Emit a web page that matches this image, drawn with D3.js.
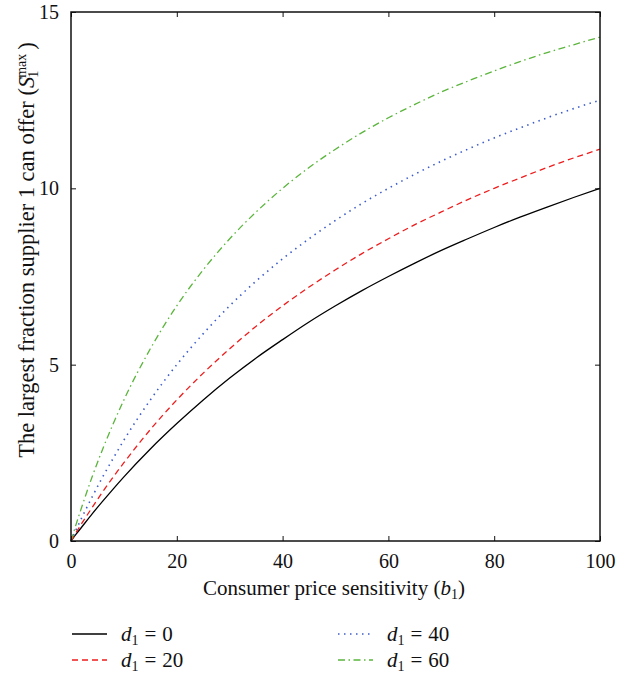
<!DOCTYPE html>
<html>
<head>
<meta charset="utf-8">
<script src="https://cdn.jsdelivr.net/npm/d3@7"></script>
<style>
  body { margin: 0; background: #fff; }
  text { font-family: "Liberation Serif", "DejaVu Serif", serif; fill: #111; }
</style>
</head>
<body>
<div id="chart"></div>
<script>
// values
var bValues = [0, 1, 2, 4, 6, 8, 10, 15, 20, 25, 30, 35, 40, 45, 50, 55, 60, 65, 70, 75, 80, 85, 90, 95, 100];
var d0  = [0, 0.20, 0.39, 0.77, 1.13, 1.48, 1.82, 2.61, 3.33, 4.00, 4.62, 5.19, 5.71, 6.21, 6.67, 7.10, 7.50, 7.88, 8.24, 8.57, 8.89, 9.19, 9.47, 9.74, 10.00];
var d20 = [0, 0.25, 0.49, 0.95, 1.40, 1.82, 2.22, 3.16, 4.00, 4.76, 5.45, 6.09, 6.67, 7.20, 7.69, 8.15, 8.57, 8.97, 9.33, 9.68, 10.00, 10.30, 10.59, 10.86, 11.11];
var d40 = [0, 0.33, 0.65, 1.25, 1.82, 2.35, 2.86, 4.00, 5.00, 5.88, 6.67, 7.37, 8.00, 8.57, 9.09, 9.57, 10.00, 10.40, 10.77, 11.11, 11.43, 11.72, 12.00, 12.26, 12.50];
var d60 = [0, 0.49, 0.95, 1.82, 2.61, 3.33, 4.00, 5.45, 6.67, 7.69, 8.57, 9.33, 10.00, 10.59, 11.11, 11.58, 12.00, 12.38, 12.73, 13.04, 13.33, 13.60, 13.85, 14.07, 14.29];
var xTicks = [0, 20, 40, 60, 80, 100];
var yTicks = [0, 5, 10, 15];
var labels = ["0", "20", "40", "60"];

var series = [
  {label: labels[0], values: d0,  color: "#000000", dash: null,            width: 1.3},
  {label: labels[1], values: d20, color: "#ee1c1c", dash: "6,4",           width: 1.3},
  {label: labels[2], values: d40, color: "#3d5cc9", dash: "1.5,4.5",       width: 1.6},
  {label: labels[3], values: d60, color: "#5bb53c", dash: "7,3.5,1.5,3.5", width: 1.3}
];

var W = 637, H = 678;
var margin = {top: 12, left: 71, right: 37, bottom: 137},
    width  = W - margin.left - margin.right,
    height = H - margin.top - margin.bottom;

var svg = d3.select("#chart").append("svg")
    .attr("width", W).attr("height", H);

var g = svg.append("g").attr("transform", "translate(" + margin.left + "," + margin.top + ")");

var x = d3.scaleLinear().domain([0, 100]).range([0, width]),
    y = d3.scaleLinear().domain([0, 15]).range([height, 0]);

// curves
var line = d3.line()
    .x(function(d) { return x(d[0]); })
    .y(function(d) { return y(d[1]); })
    .curve(d3.curveMonotoneX);

series.forEach(function(s) {
  g.append("path")
    .datum(bValues.map(function(b, i) { return [b, s.values[i]]; }))
    .attr("fill", "none")
    .attr("stroke", s.color)
    .attr("stroke-width", s.width)
    .attr("stroke-dasharray", s.dash)
    .attr("d", line);
});

// axes (ticks pointing inward, box all round)
function styleAxis(sel) {
  sel.select(".domain").remove();
  sel.selectAll(".tick line").attr("stroke", "#111").attr("stroke-width", 1);
  sel.selectAll("text").style("font-size", "20px").attr("fill", "#111");
}

g.append("g")
  .attr("transform", "translate(0," + height + ")")
  .call(d3.axisBottom(x).tickValues(xTicks).tickSizeInner(-5).tickPadding(13))
  .call(styleAxis);

g.append("g")
  .call(d3.axisTop(x).tickValues(xTicks).tickSizeInner(-5).tickFormat(""))
  .call(styleAxis);

g.append("g")
  .call(d3.axisLeft(y).tickValues(yTicks).tickSizeInner(-5).tickPadding(12))
  .call(styleAxis);

g.append("g")
  .attr("transform", "translate(" + width + ",0)")
  .call(d3.axisRight(y).tickValues(yTicks).tickSizeInner(-5).tickFormat(""))
  .call(styleAxis);

g.append("rect")
  .attr("width", width).attr("height", height)
  .attr("fill", "none").attr("stroke", "#111").attr("stroke-width", 1.5);

// axis titles
var xt = svg.append("text")
  .attr("x", 334)
  .attr("y", 595)
  .attr("text-anchor", "middle")
  .style("font-size", "21px");
xt.append("tspan").text("Consumer price sensitivity (");
xt.append("tspan").style("font-style", "italic").text("b");
xt.append("tspan").attr("baseline-shift", "-25%").style("font-size", "14px").text("1");
xt.append("tspan").text(")");

var yt = svg.append("text")
  .attr("transform", "translate(34,250) rotate(-90)")
  .attr("text-anchor", "middle")
  .style("font-size", "22.5px");
yt.append("tspan").text("The largest fraction supplier 1 can offer (");
yt.append("tspan").style("font-style", "italic").text("S");
yt.append("tspan").attr("dx", -1).attr("baseline-shift", "-25%").style("font-size", "14px").text("1");
yt.append("tspan").attr("dx", -7).attr("baseline-shift", "55%").style("font-size", "14px").text("max");
yt.append("tspan").attr("dx", 4).text(")");

// legend
var legend = svg.append("g");
var pos = [[72, 634], [72, 660], [338, 634], [338, 660]];
series.forEach(function(s, i) {
  var p = pos[i];
  legend.append("line")
    .attr("x1", p[0]).attr("x2", p[0] + 35)
    .attr("y1", p[1]).attr("y2", p[1])
    .attr("stroke", s.color)
    .attr("stroke-width", s.width)
    .attr("stroke-dasharray", s.dash);
  var t = legend.append("text")
    .attr("x", p[0] + 49).attr("y", p[1] + 7)
    .style("font-size", "21px");
  t.append("tspan").style("font-style", "italic").text("d");
  t.append("tspan").attr("baseline-shift", "-25%").style("font-size", "14px").text("1");
  t.append("tspan").attr("dx", 6).text("=");
  t.append("tspan").attr("dx", 6).text(s.label);
});
</script>
</body>
</html>
